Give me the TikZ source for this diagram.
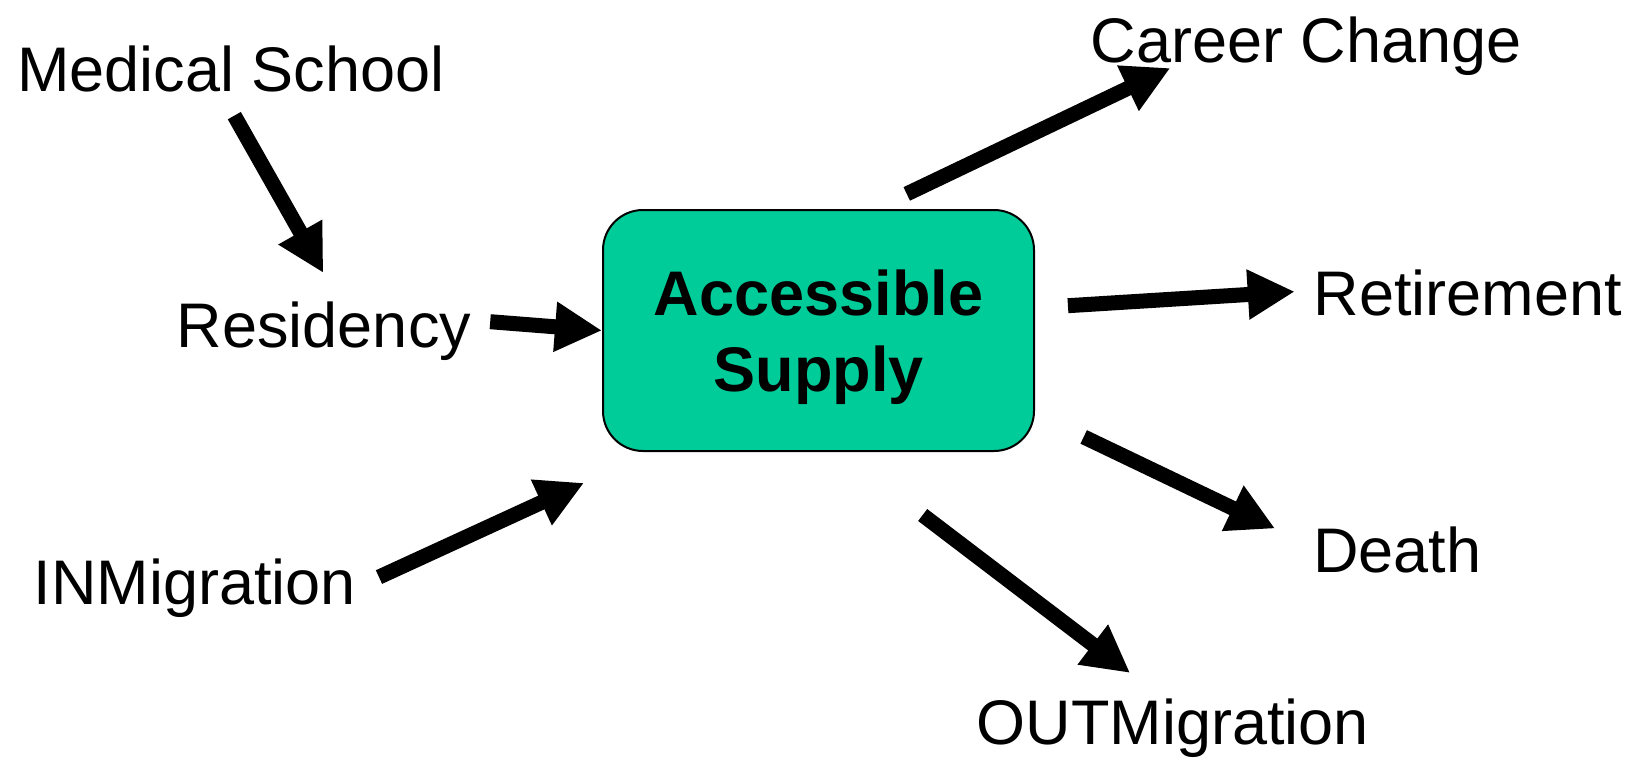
\documentclass[tikz,border=0pt]{standalone}
\usepackage{fontspec}
\setmainfont{Liberation Sans}
\usetikzlibrary{arrows.meta}
\definecolor{supplygreen}{RGB}{0,204,153}

\begin{document}
\begin{tikzpicture}[x=1pt,y=-1pt,
    term/.style={inner sep=0pt,font=\fontsize{63}{76}\selectfont,text height=46pt,text depth=13pt},
    stock/.style={draw,line width=2pt,fill=supplygreen,rounded corners=40pt,minimum width=431pt,minimum height=241pt,align=center,text depth=0pt,font=\fontsize{63}{76}\selectfont\bfseries},
    flow/.style={line width=15pt,-{Triangle[length=47pt,width=47pt]}}]
    \useasboundingbox (0,0) rectangle (1636,760);
    \node[stock] (supply) at (818.5,330.5) {Accessible\\Supply};
    \node[term,anchor=base] (med) at (231,92) {Medical School};
    \node[term,anchor=base] (res) at (324,347) {Residency};
    \node[term,anchor=base] (inm) at (195,604) {INMigration};
    \node[term,anchor=base] (car) at (1306,63) {Career Change};
    \node[term,anchor=base] (ret) at (1468,315) {Retirement};
    \node[term,anchor=base west] (dth) at (1313,572) {Death};
    \node[term,anchor=base] (out) at (1173,744) {OUTMigration};
    \path[flow]
        (med.265) edge[shorten <=12pt, shorten >=32pt] (res.63)
        (res.4) edge[shorten <=19pt] (supply.west)
        (inm.east) edge[shorten <=25pt, shorten >=74pt] (supply.216)
        (supply.65) edge[shorten <=35pt, shorten >=-19pt] (car.191)
        (supply.6) edge[shorten <=33pt, shorten >=19pt] (ret.177)
        (supply.339) edge[shorten <=54pt, shorten >=42pt] (dth.174)
        (supply.280) edge[shorten <=104pt, shorten >=41pt] (out.109);
\end{tikzpicture}
\end{document}
